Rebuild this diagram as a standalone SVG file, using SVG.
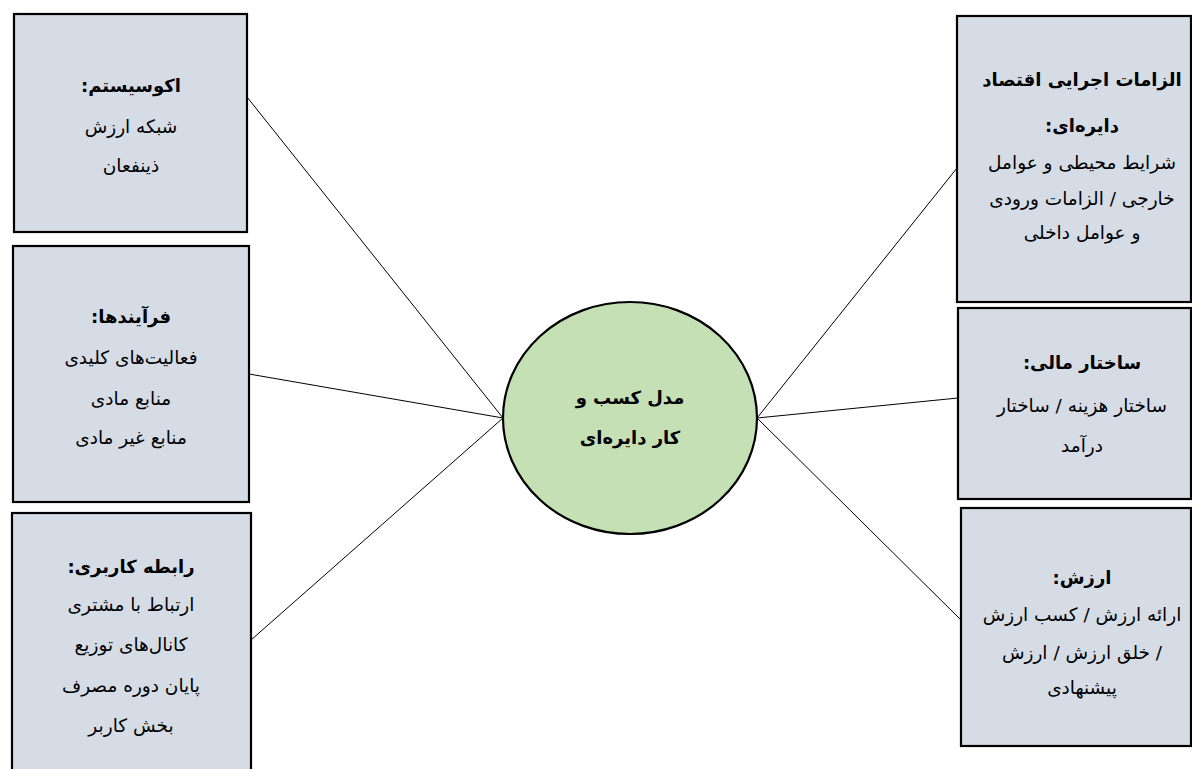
<svg xmlns="http://www.w3.org/2000/svg" width="1192" height="769" viewBox="0 0 1192 769">
<style>
.box{fill:#d6dce5;stroke:#000;stroke-width:2.2}
.hub{fill:#c5e0b4;stroke:#000;stroke-width:2.2}
.t{font-family:"DejaVu Sans",sans-serif;font-size:18.5px;fill:#000;text-anchor:middle}
.b{font-weight:bold;font-size:18px}
.conn line{stroke:#000;stroke-width:1}
</style>
<rect width="1192" height="769" fill="#fff"/>
<g class="conn">
<line x1="247" y1="97" x2="503" y2="418"/>
<line x1="249" y1="374" x2="503" y2="418"/>
<line x1="251" y1="640" x2="503" y2="418"/>
<line x1="957" y1="168" x2="757" y2="418"/>
<line x1="958" y1="398" x2="757" y2="418"/>
<line x1="961" y1="620" x2="757" y2="418"/>
</g>
<g id="n-ecosystem">
<rect class="box" x="14" y="14" width="233" height="218"/>
<text class="t b" direction="rtl" x="131" y="92">اکوسیستم:</text>
<text class="t" direction="rtl" x="131" y="133">شبکه ارزش</text>
<text class="t" direction="rtl" x="131" y="172">ذینفعان</text>
</g>
<g id="n-processes">
<rect class="box" x="13" y="246" width="236" height="256"/>
<text class="t b" direction="rtl" x="131" y="323">فرآیندها:</text>
<text class="t" direction="rtl" x="131" y="364">فعالیت‌های کلیدی</text>
<text class="t" direction="rtl" x="131" y="405">منابع مادی</text>
<text class="t" direction="rtl" x="131" y="444">منابع غیر مادی</text>
</g>
<g id="n-user">
<rect class="box" x="12" y="513" width="239" height="262"/>
<text class="t b" direction="rtl" x="131" y="573">رابطه کاربری:</text>
<text class="t" direction="rtl" x="131" y="611">ارتباط با مشتری</text>
<text class="t" direction="rtl" x="131" y="651">کانال‌های توزیع</text>
<text class="t" direction="rtl" x="131" y="692">پایان دوره مصرف</text>
<text class="t" direction="rtl" x="131" y="732">بخش کاربر</text>
</g>
<g id="n-hub">
<ellipse class="hub" cx="630" cy="418" rx="127" ry="116"/>
<text class="t b" direction="rtl" x="630" y="404">مدل کسب و</text>
<text class="t b" direction="rtl" x="630" y="444">کار دایره‌ای</text>
</g>
<g id="n-requirements">
<rect class="box" x="957" y="16" width="234" height="286"/>
<text class="t b" direction="rtl" x="1082" y="86">الزامات اجرایی اقتصاد</text>
<text class="t b" direction="rtl" x="1082" y="132">دایره‌ای:</text>
<text class="t" direction="rtl" x="1082" y="169">شرایط محیطی و عوامل</text>
<text class="t" direction="rtl" x="1082" y="205">خارجی / الزامات ورودی</text>
<text class="t" direction="rtl" x="1082" y="239">و عوامل داخلی</text>
</g>
<g id="n-finance">
<rect class="box" x="958" y="308" width="233" height="191"/>
<text class="t b" direction="rtl" x="1082" y="369">ساختار مالی:</text>
<text class="t" direction="rtl" x="1082" y="412">ساختار هزینه / ساختار</text>
<text class="t" direction="rtl" x="1082" y="452">درآمد</text>
</g>
<g id="n-value">
<rect class="box" x="961" y="508" width="230" height="238"/>
<text class="t b" direction="rtl" x="1082" y="584">ارزش:</text>
<text class="t" direction="rtl" x="1082" y="621">ارائه ارزش / کسب ارزش</text>
<text class="t" direction="rtl" x="1082" y="659">/ خلق ارزش / ارزش</text>
<text class="t" direction="rtl" x="1082" y="694">پیشنهادی</text>
</g>
</svg>
